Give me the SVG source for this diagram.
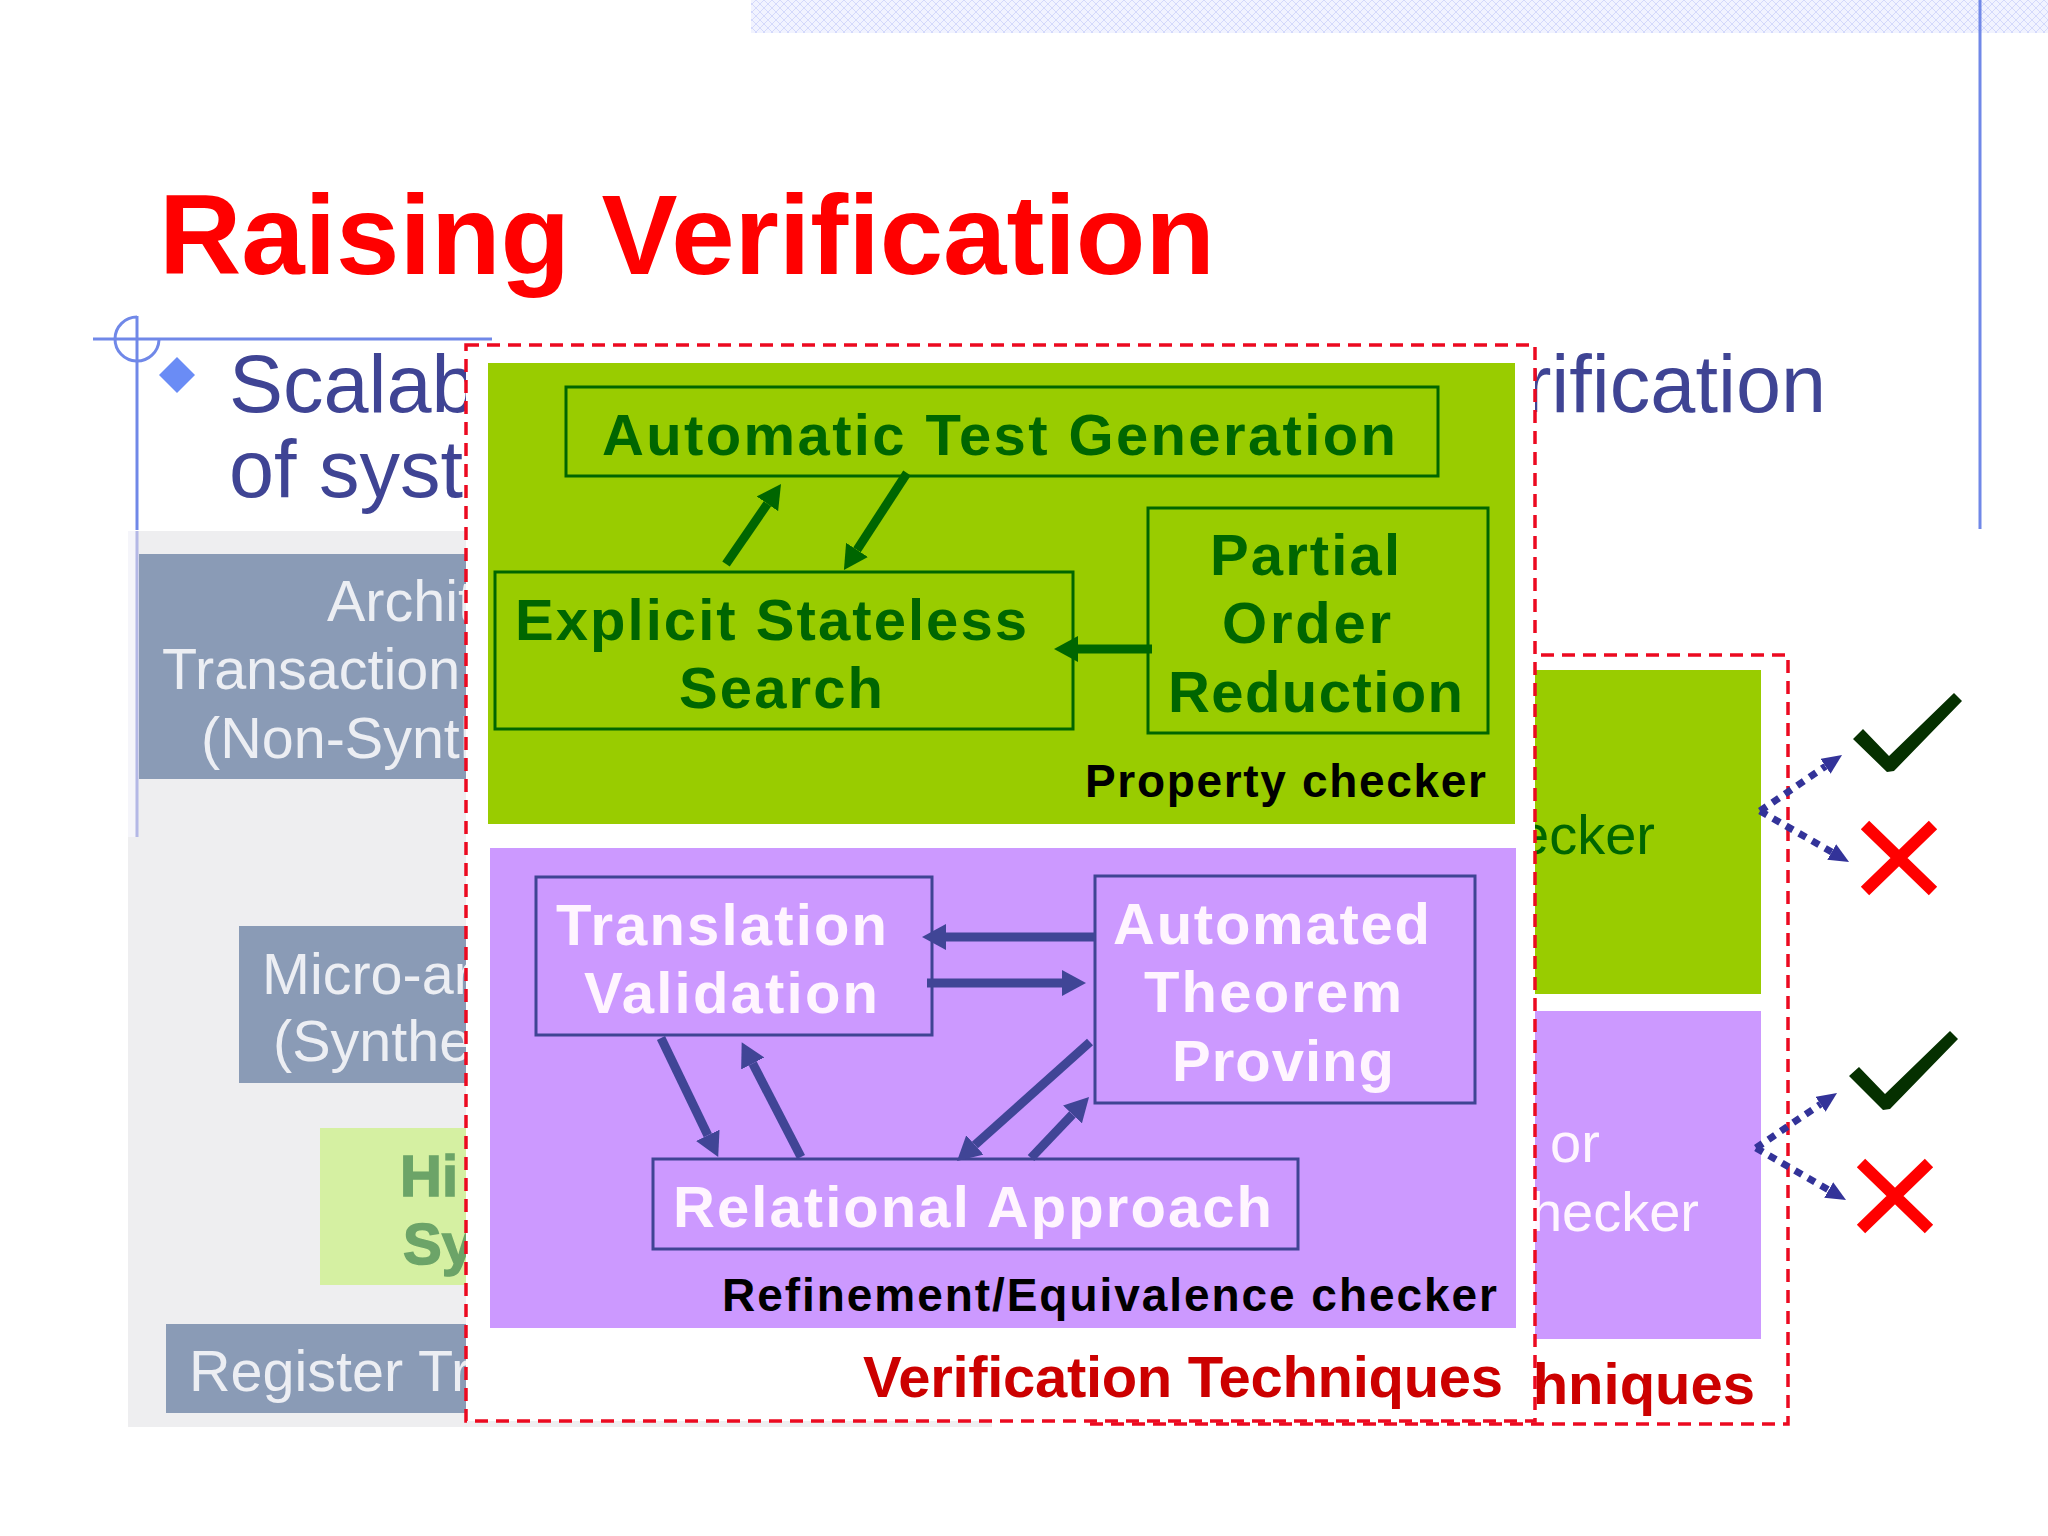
<svg xmlns="http://www.w3.org/2000/svg" width="2048" height="1536" viewBox="0 0 2048 1536">
<style>
text{font-family:"Liberation Sans",Arial,sans-serif}
.b{font-weight:700}
.slate{fill:#8a9bb6}
.st{fill:#eceef3;font-size:57.5px}
.body{fill:#3f4494;font-size:81px}
.deco{stroke:#7088e8;stroke-width:3;fill:none}
.red{fill:none;stroke:#ec0a20;stroke-width:3.5;stroke-dasharray:13 8}
.gbox{fill:none;stroke:#006600;stroke-width:3}
.pbox{fill:none;stroke:#3f4494;stroke-width:3}
.gt{fill:#006600;font-size:58px;font-weight:700}
.pt{fill:#fff5ff;font-size:58px;font-weight:700}
.lab{fill:#000;font-size:46px;font-weight:700}
.vt{fill:#cc0000;font-size:58px;font-weight:700}
.ga{stroke:#006600;stroke-width:9;fill:none;marker-end:url(#hg)}
.pa{stroke:#404596;stroke-width:9;fill:none;marker-end:url(#hp)}
.da{stroke:#333399;stroke-width:7;stroke-dasharray:8 7;fill:none;marker-end:url(#hd)}
.chk{fill:#053000}
.x{stroke:#ff0000;stroke-width:12;fill:none}
</style>
<defs>
<pattern id="band" width="8" height="8" patternUnits="userSpaceOnUse">
<rect width="8" height="8" fill="#f1f3ff"/>
<path d="M0,4L4,0L8,4L4,8Z" fill="none" stroke="#d4d9fb" stroke-width="1"/>
</pattern>
<marker id="hg" markerUnits="userSpaceOnUse" markerWidth="24" markerHeight="26" refX="0" refY="13" orient="auto"><path d="M0,0L24,13L0,26Z" fill="#006600"/></marker>
<marker id="hp" markerUnits="userSpaceOnUse" markerWidth="24" markerHeight="26" refX="0" refY="13" orient="auto"><path d="M0,0L24,13L0,26Z" fill="#404596"/></marker>
<marker id="hd" markerUnits="userSpaceOnUse" markerWidth="20" markerHeight="18" refX="0" refY="9" orient="auto"><path d="M0,0L20,9L0,18Z" fill="#333399"/></marker>
</defs>
<rect width="2048" height="1536" fill="#fff"/>
<g id="decor">
<rect x="751" y="0" width="1297" height="33" fill="url(#band)"/>
<path class="deco" d="M1980,0V529"/>
<path class="deco" d="M93,339H492"/>
<path class="deco" d="M137,316V530"/>
<path class="deco" d="M137,317A22,22 0 1 0 159,340"/>
</g>
<g id="title"><text x="159" y="274" class="b" font-size="114" fill="#ff0000" textLength="1056">Raising Verification</text></g>
<g id="bullet">
<path d="M177,357L195,375L177,393L159,375Z" fill="#6a8cf5"/>
<text x="229" y="412" class="body">Scalab</text>
<text x="229" y="497" class="body">of syst</text>
<text x="1826" y="412" class="body" text-anchor="end">rification</text>
</g>
<g id="flow-background">
<rect x="128" y="531" width="9" height="306" fill="#f5f5fa"/>
<rect x="137" y="531" width="855" height="896" fill="#eeeef0"/>
<rect x="128" y="837" width="9" height="590" fill="#eeeef0"/>
<path d="M137,531V837" stroke="#b4b8e6" stroke-width="3" fill="none"/>
</g>
<g id="node-architectural">
<rect class="slate" x="139" y="554" width="340" height="225"/>
<text class="st" x="327" y="621">Archit</text>
<text class="st" x="162" y="689">Transaction</text>
<text class="st" x="201" y="758">(Non-Synth</text>
</g>
<g id="node-microarch">
<rect class="slate" x="239" y="926" width="240" height="157"/>
<text class="st" x="262" y="994">Micro-ar</text>
<text class="st" x="273" y="1061">(Synthe</text>
</g>
<g id="node-highlevel">
<rect x="320" y="1128" width="159" height="157" fill="#d5f0a2"/>
<text x="400" y="1196" class="b" font-size="58" fill="#6ca468" stroke="#6ca468" stroke-width="1.5">Hi</text>
<text x="403" y="1264" class="b" font-size="58" fill="#6ca468" stroke="#6ca468" stroke-width="1.5">Sy</text>
</g>
<g id="node-rtl">
<rect class="slate" x="166" y="1324" width="313" height="89"/>
<text class="st" x="189" y="1391">Register Tr</text>
</g>
<g id="back-techniques">
<path class="red" d="M1520,655H1788V1424H1087"/>
<rect x="1500" y="670" width="261" height="324" fill="#99cc00"/>
<rect x="1500" y="1011" width="261" height="328" fill="#cc99ff"/>
<text x="1655" y="854" text-anchor="end" font-size="56" fill="#006600">ecker</text>
<text x="1550" y="1162" font-size="56" fill="#fff5ff">or</text>
<text x="1699" y="1231" text-anchor="end" font-size="56" fill="#fff5ff">hecker</text>
<text x="1755" y="1404" text-anchor="end" class="vt">hniques</text>
</g>
<g id="results">
<polygon class="chk" points="1853,739 1863,729 1889,756 1954,693 1962,701 1894,771 1887,772"/>
<path class="x" d="M1865,825L1933,891M1933,825L1865,891"/>
<polygon class="chk" points="1849,1076 1859,1067 1885,1094 1950,1031 1958,1039 1890,1109 1883,1110"/>
<path class="x" d="M1861,1163L1929,1229M1929,1163L1861,1229"/>
</g>
<g id="techniques">
<rect x="466" y="345" width="1069" height="1076" fill="#fff"/>
<rect x="466" y="345" width="1069" height="1076" class="red"/>
<text class="vt" x="863" y="1397" textLength="640">Verification Techniques</text>
</g>
<g id="property-checker">
<rect x="488" y="363" width="1027" height="461" fill="#99cc00"/>
<text class="lab" x="1085" y="797" textLength="401">Property checker</text>
</g>
<g id="node-atg">
<rect class="gbox" x="566" y="387" width="872" height="89"/>
<text class="gt" x="602" y="455" textLength="794">Automatic Test Generation</text>
</g>
<g id="node-ess">
<rect class="gbox" x="495" y="572" width="578" height="157"/>
<text class="gt" x="515" y="640" textLength="512">Explicit Stateless</text>
<text class="gt" x="679" y="708" textLength="204">Search</text>
</g>
<g id="node-por">
<rect class="gbox" x="1148" y="508" width="340" height="225"/>
<text class="gt" x="1210" y="575" textLength="190">Partial</text>
<text class="gt" x="1222" y="643" textLength="169">Order</text>
<text class="gt" x="1168" y="712" textLength="295">Reduction</text>
</g>
<g id="equivalence-checker">
<rect x="490" y="848" width="1026" height="480" fill="#cc99ff"/>
<text class="lab" x="722" y="1311" textLength="775">Refinement/Equivalence checker</text>
</g>
<g id="node-tv">
<rect class="pbox" x="536" y="877" width="396" height="158"/>
<text class="pt" x="556" y="945" textLength="331">Translation</text>
<text class="pt" x="584" y="1013" textLength="294">Validation</text>
</g>
<g id="node-atp">
<rect class="pbox" x="1095" y="876" width="380" height="227"/>
<text class="pt" x="1113" y="944" textLength="317">Automated</text>
<text class="pt" x="1144" y="1012" textLength="258">Theorem</text>
<text class="pt" x="1172" y="1081" textLength="222">Proving</text>
</g>
<g id="node-relational">
<rect class="pbox" x="653" y="1159" width="645" height="90"/>
<text class="pt" x="673" y="1227" textLength="599">Relational Approach</text>
</g>
<g id="connectors">
<path class="ga" d="M726,564L767.4,503.8"/>
<path class="ga" d="M907,473L857,549.9"/>
<path class="ga" d="M1152,649H1078"/>
<path class="pa" d="M1095,937H946"/>
<path class="pa" d="M927,983H1062"/>
<path class="pa" d="M661,1038L707.8,1135.3"/>
<path class="pa" d="M801,1157L752.7,1063.5"/>
<path class="pa" d="M1090,1042L974.9,1145"/>
<path class="pa" d="M1031,1158L1072.5,1114.4"/>
<path class="da" d="M1760,811L1825.5,766.3"/>
<path class="da" d="M1760,811L1831.7,852"/>
<path class="da" d="M1756,1148L1820.5,1104.2"/>
<path class="da" d="M1756,1148L1828.7,1190"/>
</g>
</svg>
